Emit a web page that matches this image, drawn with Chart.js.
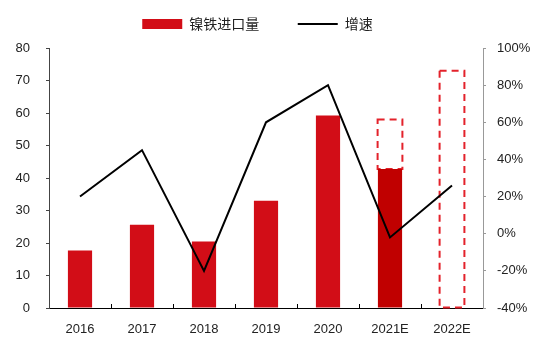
<!DOCTYPE html>
<html lang="zh">
<head>
  <meta charset="UTF-8">
  <title>镍铁进口量与增速</title>
  <script src="https://cdn.jsdelivr.net/npm/chart.js"></script>
  <style>
    html, body { margin: 0; padding: 0; background: #fff; }
    #box { width: 550px; height: 351px; }
  </style>
</head>
<body>
  <div id="box"><canvas id="chart"></canvas></div>
  <script>
    const years = ['2016', '2017', '2018', '2019', '2020', '2021E', '2022E'];
    const imports = [17.7, 25.6, 20.5, 33, 59.2, 42.8, null];
    const forecast = [null, null, null, null, null, [42.8, 58], [0, 73]];
    const growth = [20, 45, -20, 60, 80, -2, 26];
    const leftTicks = [0, 10, 20, 30, 40, 50, 60, 70, 80];
    const rightTicks = [-40, -20, 0, 20, 40, 60, 80, 100];

    const barColors = ['#d20d17', '#d20d17', '#d20d17', '#d20d17', '#d20d17', '#c00000', '#d20d17'];
    const tickFont = { family: "'Liberation Sans', Arial, sans-serif", size: 13 };

    // dashed outline for the forecast bars (Chart.js bars have no borderDash)
    const dashedBars = {
      id: 'dashedBars',
      afterDatasetDraw(chart, args) {
        if (args.index !== 1) return;
        const ctx = chart.ctx;
        ctx.save();
        ctx.strokeStyle = '#e3222b';
        ctx.lineWidth = 2;
        ctx.setLineDash([7, 5]);
        args.meta.data.forEach((el, i) => {
          if (!forecast[i]) return;
          const p = el.getProps(['x', 'y', 'base', 'width'], true);
          ctx.strokeRect(p.x - p.width / 2, p.y, p.width, p.base - p.y);
        });
        ctx.restore();
      }
    };

    // a bit more room between the legend and the plot
    const legendGap = {
      id: 'legendGap',
      beforeInit(chart) {
        const lg = chart.legend;
        if (!lg) return;
        const fit = lg.fit;
        lg.fit = function () {
          fit.call(this);
          this.height += 7;
        };
      }
    };

    new Chart(document.getElementById('chart'), {
      data: {
        labels: years,
        datasets: [
          {
            type: 'line',
            label: '增速\u3000\u3000\u2002',
            data: growth,
            yAxisID: 'y1',
            borderColor: '#000',
            backgroundColor: '#000',
            borderWidth: 2,
            pointRadius: 0,
            tension: 0,
            pointStyle: 'line',
            order: 0
          },
          {
            type: 'bar',
            label: 'forecast',
            data: forecast,
            yAxisID: 'y',
            backgroundColor: 'rgba(0,0,0,0)',
            borderWidth: 0,
            grouped: false,
            barPercentage: 0.4,
            categoryPercentage: 1,
            order: 2
          },
          {
            type: 'bar',
            label: '镍铁进口量\u3000\u2002\u2005',
            data: imports,
            yAxisID: 'y',
            backgroundColor: barColors,
            grouped: false,
            barPercentage: 0.39,
            categoryPercentage: 1,
            pointStyle: 'rect',
            order: 1
          }
        ]
      },
      options: {
        responsive: true,
        maintainAspectRatio: false,
        animation: false,
        layout: { padding: { top: 3, left: 0, right: 0, bottom: 0 } },
        plugins: {
          legend: {
            position: 'top',
            reverse: true,
            labels: {
              usePointStyle: true,
              pointStyleWidth: 40,
              boxHeight: 10,
              padding: 14,
              color: '#222',
              font: { family: "'Noto Sans CJK SC', sans-serif", size: 14 },
              filter: item => item.text !== 'forecast'
            }
          },
          tooltip: { enabled: false }
        },
        scales: {
          x: {
            grid: { drawOnChartArea: false, tickLength: -4, color: '#000' },
            border: { color: '#000', width: 1 },
            ticks: { color: '#222', font: tickFont, padding: 18 },
            afterFit: s => { s.height = 43; }
          },
          y: {
            position: 'left',
            min: 0,
            max: 80,
            afterBuildTicks: s => { s.ticks = leftTicks.map(v => ({ value: v })); },
            grid: { drawOnChartArea: false, tickLength: 3, color: '#444' },
            border: { color: '#444', width: 1 },
            ticks: { color: '#222', font: tickFont, padding: 16 },
            afterFit: s => { s.width = 49; }
          },
          y1: {
            position: 'right',
            min: -40,
            max: 100,
            afterBuildTicks: s => { s.ticks = rightTicks.map(v => ({ value: v })); },
            grid: { drawOnChartArea: false, tickLength: 3, color: '#999' },
            border: { color: '#999', width: 1 },
            ticks: { color: '#222', font: tickFont, padding: 11, callback: v => v + '%' },
            afterFit: s => { s.width = 67; }
          }
        }
      },
      plugins: [dashedBars, legendGap]
    });
  </script>
</body>
</html>
